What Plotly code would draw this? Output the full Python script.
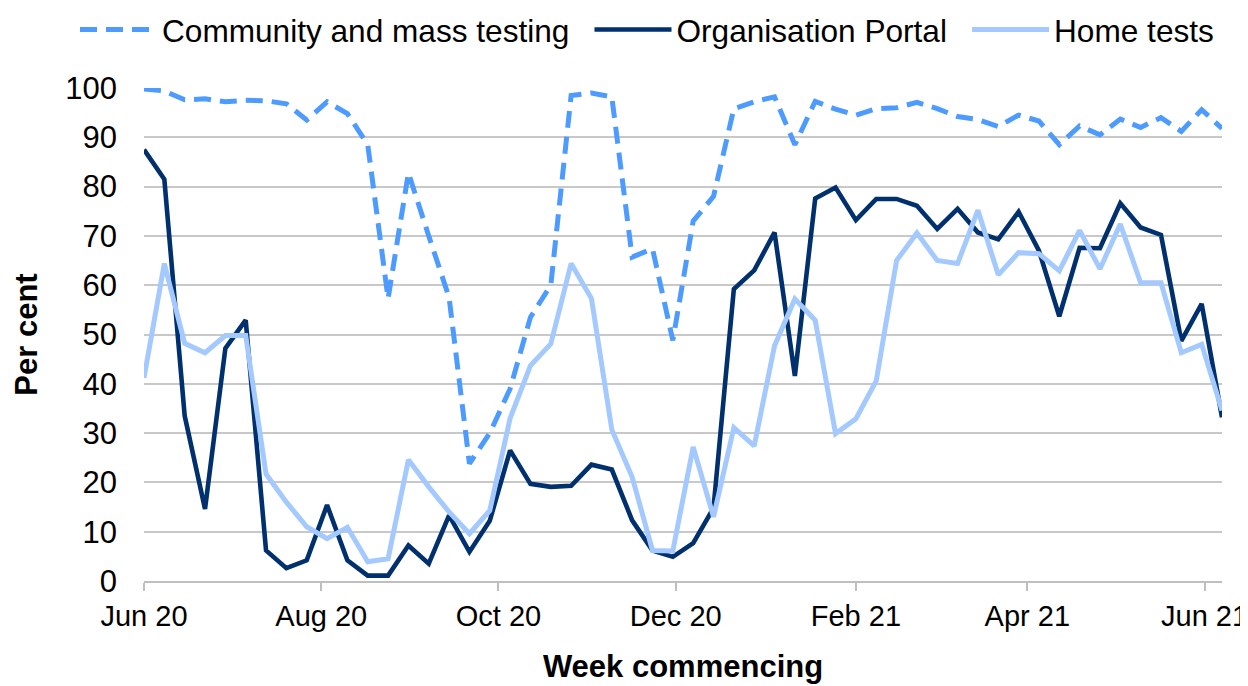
import plotly.graph_objects as go

weeks = [
    "2020-06-01", "2020-06-08", "2020-06-15", "2020-06-22", "2020-06-29",
    "2020-07-06", "2020-07-13", "2020-07-20", "2020-07-27",
    "2020-08-03", "2020-08-10", "2020-08-17", "2020-08-24", "2020-08-31",
    "2020-09-07", "2020-09-14", "2020-09-21", "2020-09-28",
    "2020-10-05", "2020-10-12", "2020-10-19", "2020-10-26",
    "2020-11-02", "2020-11-09", "2020-11-16", "2020-11-23", "2020-11-30",
    "2020-12-07", "2020-12-14", "2020-12-21", "2020-12-28",
    "2021-01-04", "2021-01-11", "2021-01-18", "2021-01-25",
    "2021-02-01", "2021-02-08", "2021-02-15", "2021-02-22",
    "2021-03-01", "2021-03-08", "2021-03-15", "2021-03-22", "2021-03-29",
    "2021-04-05", "2021-04-12", "2021-04-19", "2021-04-26",
    "2021-05-03", "2021-05-10", "2021-05-17", "2021-05-24", "2021-05-31",
    "2021-06-07",
]

community = [
    99.8, 99.4, 97.6, 97.8, 97.2, 97.5, 97.4, 96.8, 93.5, 97.2,
    94.8, 88.5, 57.3, 82.8, 70.0, 57.5, 23.8, 30.0, 39.0, 53.5,
    60.0, 98.5, 99.0, 98.2, 65.7, 67.4, 48.8, 73.0, 78.0, 95.8,
    97.2, 98.2, 88.5, 97.3, 95.7, 94.5, 95.8, 96.0, 97.1, 95.8,
    94.2, 93.6, 92.2, 94.5, 93.3, 88.5, 92.3, 90.5, 93.7, 92.0,
    94.0, 91.2, 95.6, 91.8,
]

portal = [
    87.5, 81.5, 33.5, 14.6, 47.2, 52.9, 6.2, 2.6, 4.2, 15.4,
    4.2, 1.1, 1.1, 7.2, 3.5, 13.3, 5.9, 12.2, 26.5, 19.7,
    19.1, 19.3, 23.6, 22.6, 12.3, 6.2, 4.9, 7.7, 14.8, 59.2,
    63.0, 70.7, 41.6, 77.6, 79.8, 73.2, 77.5, 77.5, 76.1, 71.4,
    75.5, 70.7, 69.3, 74.9, 67.0, 53.7, 67.6, 67.5, 76.6, 71.7,
    70.2, 48.7, 56.2, 33.2,
]

home = [
    41.2, 64.4, 48.2, 46.3, 49.8, 49.8, 21.7, 16.0, 11.0, 8.6,
    10.9, 3.9, 4.5, 24.6, 19.1, 14.0, 9.6, 14.3, 33.0, 43.7,
    48.1, 64.4, 57.3, 30.7, 21.1, 6.2, 6.1, 27.2, 13.0, 31.1,
    27.4, 47.7, 57.2, 52.9, 29.9, 32.9, 40.6, 65.0, 70.6, 65.0,
    64.4, 75.2, 62.1, 66.6, 66.4, 62.9, 71.1, 63.3, 72.4, 60.5,
    60.5, 46.3, 48.0, 34.6,
]

tick_dates = ["2020-06-01", "2020-08-01", "2020-10-01", "2020-12-01",
              "2021-02-01", "2021-04-01", "2021-06-01"]
tick_labels = ["Jun 20", "Aug 20", "Oct 20", "Dec 20", "Feb 21", "Apr 21", "Jun 21"]
y_ticks = [0, 10, 20, 30, 40, 50, 60, 70, 80, 90, 100]

FONT = "Liberation Sans, Arial, sans-serif"
PAD = "\u00a0\u2009"  # spacing between legend entries

# The page body has an 8px margin, so the figure is sized/positioned to compensate.
fig = go.Figure()
fig.add_trace(go.Scatter(
    x=weeks, y=community, mode="lines", name="Community and mass testing" + PAD,
    line=dict(color="#4D9BFF", width=5, dash="17px,9px"), cliponaxis=False,
))
fig.add_trace(go.Scatter(
    x=weeks, y=portal, mode="lines", name="Organisation Portal" + PAD,
    line=dict(color="#00306E", width=4.6), cliponaxis=False,
))
fig.add_trace(go.Scatter(
    x=weeks, y=home, mode="lines", name="Home tests",
    line=dict(color="#A3C9FF", width=5), cliponaxis=False,
))

fig.update_layout(
    width=1240, height=676,
    margin=dict(l=136, r=26, t=80, b=103, autoexpand=False),
    paper_bgcolor="white", plot_bgcolor="white",
    font=dict(family=FONT, size=30, color="black"),
    showlegend=True,
    legend=dict(
        orientation="h", x=-0.064, xanchor="left", y=1.1176, yanchor="middle",
        xref="paper", yref="paper", font=dict(size=31.6, color="black"),
        itemwidth=77, traceorder="normal", tracegroupgap=0,
        bgcolor="rgba(0,0,0,0)",
    ),
    xaxis=dict(
        type="date", automargin=False,
        range=["2020-06-01", "2021-06-07"],
        tickvals=tick_dates, ticktext=tick_labels,
        ticklabeloverflow="allow",
        showgrid=False, zeroline=False,
        showline=True, linecolor="#BFBFBF", linewidth=1.5,
        ticks="outside", ticklen=8, tickcolor="#BFBFBF", tickwidth=1.5,
        tickfont=dict(size=29),
        title=dict(text="<b>Week commencing</b>", font=dict(size=31), standoff=40),
    ),
    yaxis=dict(
        range=[0, 100], tickvals=y_ticks, automargin=False,
        showgrid=True, gridcolor="#C8C8C8", gridwidth=1.5,
        zeroline=False, showline=False, ticks="",
        ticklabelstandoff=26,
        tickfont=dict(size=31),
        title=dict(text="<b>Per cent</b>", font=dict(size=31), standoff=18),
    ),
)

fig.write_html("out.html")
